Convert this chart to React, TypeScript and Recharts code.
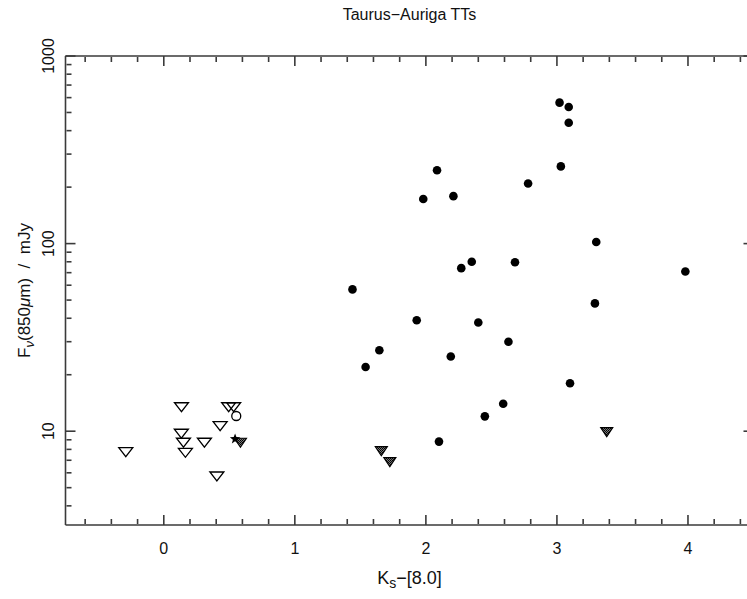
import React from "react";
import { ScatterChart, Scatter, XAxis, YAxis } from "recharts";

// axis ranges and ticks
const xDomain = [-0.75, 4.5];
const yDomain = [3.1623, 1000];
const xMajor = [0, 1, 2, 3, 4];
const xMinor = [-0.6, -0.4, -0.2, 0.2, 0.4, 0.6, 0.8, 1.2, 1.4, 1.6, 1.8, 2.2, 2.4, 2.6, 2.8, 3.2, 3.4, 3.6, 3.8, 4.2, 4.4];
const yMajor = [10, 100, 1000];
const yMinor = [4, 5, 6, 7, 8, 9, 20, 30, 40, 50, 60, 70, 80, 90, 200, 300, 400, 500, 600, 700, 800, 900];

// 850um detections
const detX = [1.44, 1.54, 1.645, 1.93, 1.98, 2.1, 2.085, 2.19, 2.21, 2.27, 2.35, 2.4, 2.45, 2.59, 2.63, 2.68, 2.78, 3.02, 3.09, 3.09, 3.03, 3.1, 3.29, 3.3, 3.98];
const detY = [57, 22, 27, 39, 173, 8.8, 246, 25, 179, 74, 80, 38, 12, 14, 30, 79.5, 209, 564, 535, 441, 258, 18, 48, 102, 71];

// upper limits
const limX = [0.135, 0.495, 0.533, 0.43, 0.134, 0.15, 0.31, -0.29, 0.165, 0.405];
const limY = [13.5, 13.5, 13.5, 10.7, 9.75, 8.73, 8.73, 7.78, 7.72, 5.77];

// upper limits, hatched
const hatchX = [0.585, 1.66, 1.725, 3.38];
const hatchY = [8.73, 7.87, 6.88, 9.94];

// odd ones
const ringX = [0.553];
const ringY = [12.05];
const starX = [0.544];
const starY = [9.09];

const pts = (xs: number[], ys: number[]) => xs.map((x, i) => ({ x, y: ys[i] }));

const FRAME = "#3a3a3a";
const FONT = "'Liberation Sans', Arial, sans-serif";

const Dot = (p: any) => <circle cx={p.cx} cy={p.cy} r={4.3} fill="#000" />;

const Tri = (p: any) => {
  const { cx, cy } = p;
  return (
    <polygon
      points={`${cx - 7},${cy - 4} ${cx + 7},${cy - 4} ${cx},${cy + 5}`}
      fill="none"
      stroke="#000"
      strokeWidth={1.3}
    />
  );
};

const HatchTri = (p: any) => {
  const { cx, cy } = p;
  return (
    <g>
      <defs>
        <pattern id="hatch" patternUnits="userSpaceOnUse" width="2" height="2">
          <rect width="2" height="2" fill="#777" />
          <rect width="1" height="1" fill="#000" />
          <rect x="1" y="1" width="1" height="1" fill="#111" />
        </pattern>
      </defs>
      <polygon
        points={`${cx - 6},${cy - 4} ${cx + 6},${cy - 4} ${cx},${cy + 5}`}
        fill="url(#hatch)"
        stroke="#000"
        strokeWidth={1.2}
      />
    </g>
  );
};

const Ring = (p: any) => <circle cx={p.cx} cy={p.cy} r={4.5} fill="none" stroke="#000" strokeWidth={1.3} />;

const Star = (p: any) => {
  const { cx, cy } = p;
  const r1 = 5.5;
  const r2 = 2.3;
  const s: string[] = [];
  for (let k = 0; k < 10; k++) {
    const r = k % 2 === 0 ? r1 : r2;
    const a = -Math.PI / 2 + (k * Math.PI) / 5;
    s.push(`${cx + r * Math.cos(a)},${cy + r * Math.sin(a)}`);
  }
  return <polygon points={s.join(" ")} fill="#000" />;
};

const XTick = (p: any) => (
  <text x={p.x} y={p.y + 23} textAnchor="middle" dominantBaseline="central" fontFamily={FONT} fontSize={16} fill="#111">
    {p.payload.value}
  </text>
);

const YTick = (p: any) => (
  <text
    transform={`translate(${p.x - 17.5},${p.y}) rotate(-90)`}
    textAnchor="middle"
    dominantBaseline="central"
    fontFamily={FONT}
    fontSize={16}
    fill="#111"
  >
    {p.payload.value}
  </text>
);

// tick lines only, no label
const NoLabel = () => <g />;

const lineStyle = { stroke: FRAME, strokeWidth: 1.6 };

export default function App() {
  return (
    <div style={{ position: "fixed", left: 0, top: 0, width: 747, height: 599, overflow: "hidden", background: "#fff" }}>
      <ScatterChart width={780} height={599} margin={{ top: 56, right: 26.5, bottom: 34, left: 25.5 }}>
        {/* bottom axis with labels */}
        <XAxis xAxisId="x" type="number" dataKey="x" domain={xDomain} allowDataOverflow ticks={xMajor} interval={0}
          height={40} tickSize={0} tickMargin={0} tickLine={false} axisLine={lineStyle} tick={<XTick />} />
        {/* inward ticks, bottom and top */}
        <XAxis xAxisId="xb1" type="number" dataKey="x" domain={xDomain} allowDataOverflow ticks={xMajor} interval={0}
          orientation="bottom" mirror height={1} tick={<NoLabel />} tickSize={10} tickLine={lineStyle} axisLine={false} />
        <XAxis xAxisId="xb2" type="number" dataKey="x" domain={xDomain} allowDataOverflow ticks={xMinor} interval={0}
          orientation="bottom" mirror height={1} tick={<NoLabel />} tickSize={5} tickLine={lineStyle} axisLine={false} />
        <XAxis xAxisId="xt1" type="number" dataKey="x" domain={xDomain} allowDataOverflow ticks={xMajor} interval={0}
          orientation="top" mirror height={1} tick={<NoLabel />} tickSize={10} tickLine={lineStyle} axisLine={lineStyle} />
        <XAxis xAxisId="xt2" type="number" dataKey="x" domain={xDomain} allowDataOverflow ticks={xMinor} interval={0}
          orientation="top" mirror height={1} tick={<NoLabel />} tickSize={5} tickLine={lineStyle} axisLine={false} />

        {/* left axis with labels */}
        <YAxis yAxisId="y" type="number" dataKey="y" scale="log" domain={yDomain} allowDataOverflow ticks={yMajor} interval={0}
          width={40} tickSize={0} tickMargin={0} tickLine={false} axisLine={lineStyle} tick={<YTick />} />
        <YAxis yAxisId="yl1" type="number" dataKey="y" scale="log" domain={yDomain} allowDataOverflow ticks={yMajor} interval={0}
          orientation="left" mirror width={1} tick={<NoLabel />} tickSize={10} tickLine={lineStyle} axisLine={false} />
        <YAxis yAxisId="yl2" type="number" dataKey="y" scale="log" domain={yDomain} allowDataOverflow ticks={yMinor} interval={0}
          orientation="left" mirror width={1} tick={<NoLabel />} tickSize={5} tickLine={lineStyle} axisLine={false} />
        <YAxis yAxisId="yr1" type="number" dataKey="y" scale="log" domain={yDomain} allowDataOverflow ticks={yMajor} interval={0}
          orientation="right" mirror width={1} tick={<NoLabel />} tickSize={10} tickLine={lineStyle} axisLine={lineStyle} />
        <YAxis yAxisId="yr2" type="number" dataKey="y" scale="log" domain={yDomain} allowDataOverflow ticks={yMinor} interval={0}
          orientation="right" mirror width={1} tick={<NoLabel />} tickSize={5} tickLine={lineStyle} axisLine={false} />

        {/* empty series so the tick-only axes get drawn */}
        <Scatter xAxisId="xb1" yAxisId="yl1" data={[]} isAnimationActive={false} />
        <Scatter xAxisId="xb2" yAxisId="yl2" data={[]} isAnimationActive={false} />
        <Scatter xAxisId="xt1" yAxisId="yr1" data={[]} isAnimationActive={false} />
        <Scatter xAxisId="xt2" yAxisId="yr2" data={[]} isAnimationActive={false} />

        <Scatter xAxisId="x" yAxisId="y" data={pts(detX, detY)} shape={<Dot />} isAnimationActive={false} />
        <Scatter xAxisId="x" yAxisId="y" data={pts(limX, limY)} shape={<Tri />} isAnimationActive={false} />
        <Scatter xAxisId="x" yAxisId="y" data={pts(hatchX, hatchY)} shape={<HatchTri />} isAnimationActive={false} />
        <Scatter xAxisId="x" yAxisId="y" data={pts(ringX, ringY)} shape={<Ring />} isAnimationActive={false} />
        <Scatter xAxisId="x" yAxisId="y" data={pts(starX, starY)} shape={<Star />} isAnimationActive={false} />
      </ScatterChart>

      <svg width={747} height={599} style={{ position: "absolute", left: 0, top: 0, pointerEvents: "none" }}>
        <text x={409.5} y={14} textAnchor="middle" dominantBaseline="central" fontFamily={FONT} fontSize={16} fill="#111">
          Taurus−Auriga TTs
        </text>
        <text x={409.5} y={578} textAnchor="middle" dominantBaseline="central" fontFamily={FONT} fontSize={18} fill="#111">
          K<tspan dy={5} fontSize={14}>s</tspan><tspan dy={-5}>−[8.0]</tspan>
        </text>
        <text transform="translate(24,290.5) rotate(-90)" textAnchor="middle" dominantBaseline="central"
          fontFamily={FONT} fontSize={17} fill="#111" style={{ whiteSpace: "pre" }}>
          F<tspan dy={5} fontSize={13} fontStyle="italic">ν</tspan><tspan dy={-5}>(850</tspan><tspan fontStyle="italic">μ</tspan>m)  /  mJy
        </text>
      </svg>
    </div>
  );
}
